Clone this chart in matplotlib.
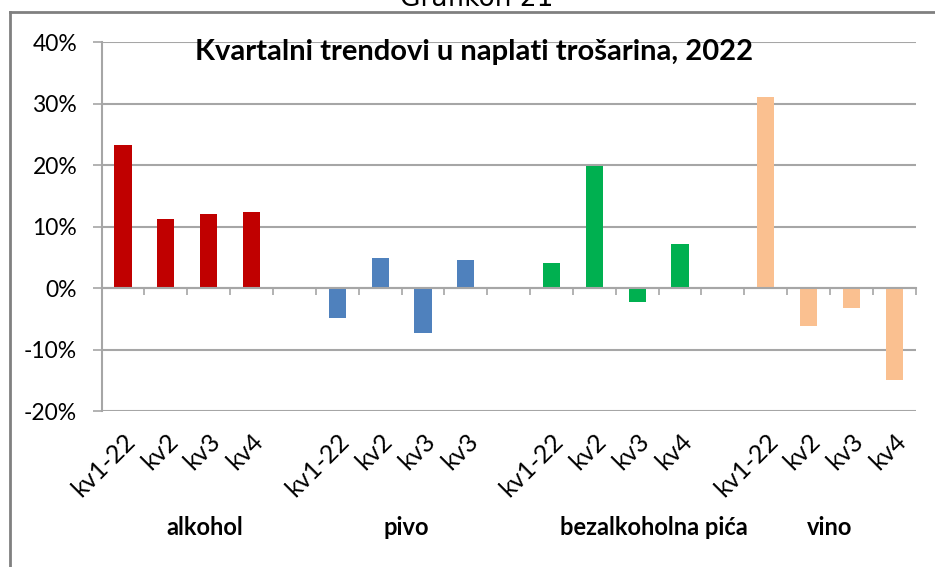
import matplotlib

matplotlib.use("Agg")
import matplotlib.pyplot as plt
import numpy as np

plt.rcParams["font.family"] = ["Lato", "DejaVu Sans"]

# data (percent change)
quarters = ["kv1-22", "kv2", "kv3", "kv4"]
pivo_quarters = ["kv1-22", "kv2", "kv3", "kv3"]
groups = ["alkohol", "pivo", "bezalkoholna pića", "vino"]
alkohol = [23.3, 11.3, 12.1, 12.4]
pivo = [-4.8, 4.9, -7.3, 4.5]
bezalkoholna = [4.0, 19.8, -2.3, 7.1]
vino = [31.1, -6.2, -3.3, -14.9]
colors = ["#C00000", "#4F81BD", "#00B050", "#FAC090"]

series = [alkohol, pivo, bezalkoholna, vino]
labels = [quarters, pivo_quarters, quarters, quarters]
# the group names are not quite centred under their bars in the original
group_shift = [0.42, 0.12, 0.89, 0.0]
GRID = "#a6a6a6"


def main() -> None:
    fig = plt.figure(figsize=(9.35, 5.67), dpi=100)
    ax = fig.add_axes([0.1086, 0.2751, 0.8708, 0.6508])

    positions, tick_labels = [], []
    group_centers = []
    for g, (vals, labs, color) in enumerate(zip(series, labels, colors)):
        xs = np.arange(4) + g * 5
        ax.bar(xs, vals, width=0.4, color=color, zorder=3)
        positions.extend(xs)
        tick_labels.extend(labs)
        group_centers.append(xs.mean())

    ax.set_xlim(-0.5, 18.5)
    ax.set_ylim(-20, 40)
    ax.set_yticks(np.arange(-20, 41, 10))
    ax.set_yticklabels([f"{v}%" for v in range(-20, 41, 10)], fontsize=16.5)
    ax.yaxis.grid(True, color=GRID, linewidth=1.5, zorder=0)
    ax.tick_params(axis="y", length=6.5, width=1.2, color=GRID, pad=11)

    for side in ("top", "right"):
        ax.spines[side].set_visible(False)
    ax.spines["left"].set_color(GRID)
    ax.spines["left"].set_linewidth(1.5)
    ax.spines["bottom"].set_position(("data", 0))
    ax.spines["bottom"].set_color(GRID)
    ax.spines["bottom"].set_linewidth(1.5)
    ax.spines["bottom"].set_zorder(4)
    ax.set_xticks(np.arange(0.5, 19, 1.0))
    ax.tick_params(axis="x", length=5, width=1.2, color=GRID, labelbottom=False)

    sec = ax.secondary_xaxis("bottom")
    sec.set_xticks(positions, tick_labels, rotation=45, ha="right",
                   rotation_mode="anchor", fontsize=18)
    sec.tick_params(length=0, pad=13)
    sec.spines["bottom"].set_visible(False)

    # the drink group names under the quarter labels
    for gx, dx, name in zip(group_centers, group_shift, groups):
        ax.text(gx + dx, -0.317, name, transform=ax.get_xaxis_transform(),
                ha="center", va="center", fontsize=17, fontweight="bold")

    fig.text(0.5075, 0.908, "Kvartalni trendovi u naplati trošarina, 2022",
             ha="center", va="center", fontsize=21, fontweight="bold")
    fig.text(0.510, 0.9894, "Grafikon 21", ha="center", va="baseline",
             fontsize=19, family="DejaVu Sans")

    # outer frame of the chart box
    fig.add_artist(plt.Line2D([0.0107, 0.0107], [0.0, 0.978], color="#808080",
                              linewidth=2))
    fig.add_artist(plt.Line2D([0.0107, 1.0], [0.978, 0.978], color="#808080",
                              linewidth=2))

    fig.savefig("out.png", dpi=100)
    plt.close(fig)


if __name__ == "__main__":
    main()
